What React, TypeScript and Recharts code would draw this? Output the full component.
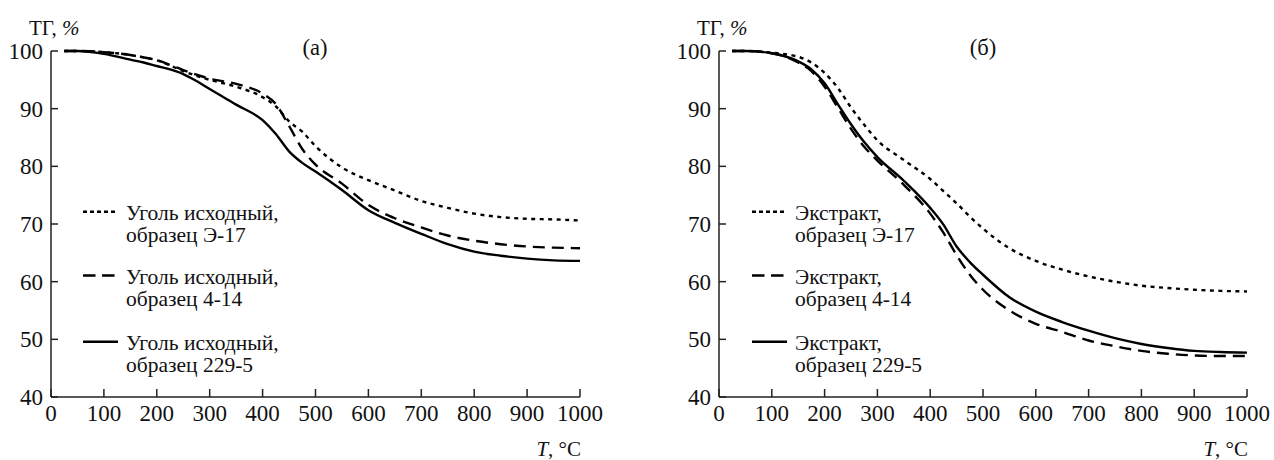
import { Line, LineChart, XAxis, YAxis } from "recharts";

const TEMPERATURA = [
  25, 50, 100, 150, 175, 200, 225, 250, 275, 300, 350, 400, 425, 450, 475, 500, 550, 600, 650,
  700, 750, 800, 850, 900, 950, 1000,
];

// (а) уголь исходный
const UGOL_E17 = [
  100, 100, 99.8, 99.3, 98.9, 98.4, 97.5, 96.5, 95.7, 95.0, 93.8, 92.0, 90.4, 87.8, 86.0, 83.5,
  79.8, 77.6, 75.8, 74.0, 72.8, 71.8, 71.2, 70.9, 70.8, 70.6,
];
const UGOL_4_14 = [
  100, 100, 99.8, 99.3, 98.9, 98.4, 97.6, 96.7, 95.9, 95.2, 94.3, 92.6, 90.8, 87.0, 83.0, 80.3,
  77.0, 73.3, 71.0, 69.4, 68.0, 67.1, 66.5, 66.1, 65.9, 65.8,
];
const UGOL_229_5 = [
  100, 100, 99.5, 98.5, 98.0, 97.4, 96.8, 96.0, 94.8, 93.4, 90.7, 88.0, 85.6, 82.6, 80.6, 79.1,
  75.9, 72.4, 70.2, 68.3, 66.5, 65.2, 64.5, 64.0, 63.7, 63.6,
];

// (б) экстракт
const EKSTRAKT_E17 = [
  100, 100, 99.7, 99.0, 98.0, 96.2, 93.6, 90.2, 87.2, 84.5, 81.1, 77.8, 75.7, 73.6, 71.3, 69.2,
  65.8, 63.6, 62.1, 60.9, 60.0, 59.3, 58.9, 58.6, 58.4, 58.3,
];
const EKSTRAKT_4_14 = [
  100, 100, 99.6, 98.0, 96.5, 93.8, 90.2, 86.5, 83.4, 81.0, 76.8, 71.8, 68.5, 64.6, 61.2, 58.6,
  55.0, 52.7, 51.3, 49.8, 48.8, 48.0, 47.5, 47.2, 47.1, 47.1,
];
const EKSTRAKT_229_5 = [
  100, 100, 99.6, 98.2, 96.8, 94.4, 90.8, 87.3, 84.2, 81.6, 77.5, 72.8, 69.9, 66.1, 63.4, 61.2,
  57.3, 54.8, 53.0, 51.5, 50.2, 49.2, 48.5, 48.0, 47.8, 47.7,
];

const TICKS_T = [0, 100, 200, 300, 400, 500, 600, 700, 800, 900, 1000];
const TICKS_TG = [40, 50, 60, 70, 80, 90, 100];

const LEGENDA_UGOL = [
  ["Уголь исходный,", "образец Э-17"],
  ["Уголь исходный,", "образец 4-14"],
  ["Уголь исходный,", "образец 229-5"],
];
const LEGENDA_EKSTRAKT = [
  ["Экстракт,", "образец Э-17"],
  ["Экстракт,", "образец 4-14"],
  ["Экстракт,", "образец 229-5"],
];

const FUENTE = "Liberation Serif, Tinos, Times New Roman, DejaVu Serif, serif";
const TRAZOS = ["4 4.5", "12 7", undefined];
const TRAZOS_LEYENDA = ["4 3", "12.5 6.5", undefined];
const LEYENDA_Y = [211.7, 275.5, 341.7];

function filas(a: number[], b: number[], c: number[]) {
  return TEMPERATURA.map((t, i) => ({ t, s1: a[i], s2: b[i], s3: c[i] }));
}

const tickStyle = { fontFamily: FUENTE, fontSize: 23, fill: "#111" };
const axisLine = { stroke: "#222", strokeWidth: 1.5 };

function Panel({
  datos,
  margin,
}: {
  datos: { t: number; s1: number; s2: number; s3: number }[];
  margin: { top: number; right: number; left: number; bottom: number };
}) {
  return (
    <LineChart width={637} height={460} data={datos} margin={margin} style={{ fontFamily: FUENTE }}>
      <XAxis
        dataKey="t"
        type="number"
        domain={[0, 1000]}
        ticks={TICKS_T}
        height={30}
        tickSize={-8}
        tickMargin={16}
        tick={tickStyle}
        axisLine={axisLine}
        tickLine={axisLine}
        interval={0}
      />
      <YAxis
        type="number"
        domain={[40, 100]}
        ticks={TICKS_TG}
        width={45}
        tickSize={-7}
        tickMargin={15}
        tick={tickStyle}
        axisLine={axisLine}
        tickLine={axisLine}
        interval={0}
      />
      {(["s1", "s2", "s3"] as const).map((k, i) => (
        <Line
          key={k}
          dataKey={k}
          type="monotone"
          stroke="#000"
          strokeWidth={2.4}
          strokeDasharray={TRAZOS[i]}
          dot={false}
          activeDot={false}
          isAnimationActive={false}
        />
      ))}
    </LineChart>
  );
}

function Leyenda({ x, textos }: { x: number; textos: string[][] }) {
  return (
    <>
      {textos.map((lineas, i) => (
        <g key={i}>
          <line
            x1={x}
            x2={x + (i === 1 ? 31.5 : 35)}
            y1={LEYENDA_Y[i]}
            y2={LEYENDA_Y[i]}
            stroke="#000"
            strokeWidth={2.4}
            strokeDasharray={TRAZOS_LEYENDA[i]}
          />
          <text x={x + 43} y={LEYENDA_Y[i] + 8.5}>
            {lineas[0]}
          </text>
          <text x={x + 43} y={LEYENDA_Y[i] + 30.5}>
            {lineas[1]}
          </text>
        </g>
      ))}
    </>
  );
}

export default function App() {
  return (
    <div
      style={{
        position: "absolute",
        left: 0,
        top: 0,
        width: 1274,
        height: 460,
        background: "#fff",
        fontFamily: FUENTE,
      }}
    >
      <div style={{ display: "flex" }}>
        <Panel
          datos={filas(UGOL_E17, UGOL_4_14, UGOL_229_5)}
          margin={{ top: 51, right: 57, left: 6, bottom: 33 }}
        />
        <Panel
          datos={filas(EKSTRAKT_E17, EKSTRAKT_4_14, EKSTRAKT_229_5)}
          margin={{ top: 51, right: 27, left: 37, bottom: 33 }}
        />
      </div>
      <svg
        width={1274}
        height={460}
        style={{ position: "absolute", left: 0, top: 0, pointerEvents: "none", fontFamily: FUENTE }}
        fontSize={21.5}
        fill="#111"
      >
        <text x={29} y={35} fontSize={21}>
          ТГ, <tspan fontStyle="italic">%</tspan>
        </text>
        <text x={697} y={35} fontSize={21}>
          ТГ, <tspan fontStyle="italic">%</tspan>
        </text>
        <text x={315} y={55} textAnchor="middle" fontSize={22.5}>
          (а)
        </text>
        <text x={983} y={55} textAnchor="middle" fontSize={22.5}>
          (б)
        </text>
        <text x={581} y={456} textAnchor="end" fontSize={21}>
          <tspan fontStyle="italic">T</tspan>, °C
        </text>
        <text x={1248} y={456} textAnchor="end" fontSize={21}>
          <tspan fontStyle="italic">T</tspan>, °C
        </text>
        <Leyenda x={83} textos={LEGENDA_UGOL} />
        <Leyenda x={752} textos={LEGENDA_EKSTRAKT} />
      </svg>
    </div>
  );
}
